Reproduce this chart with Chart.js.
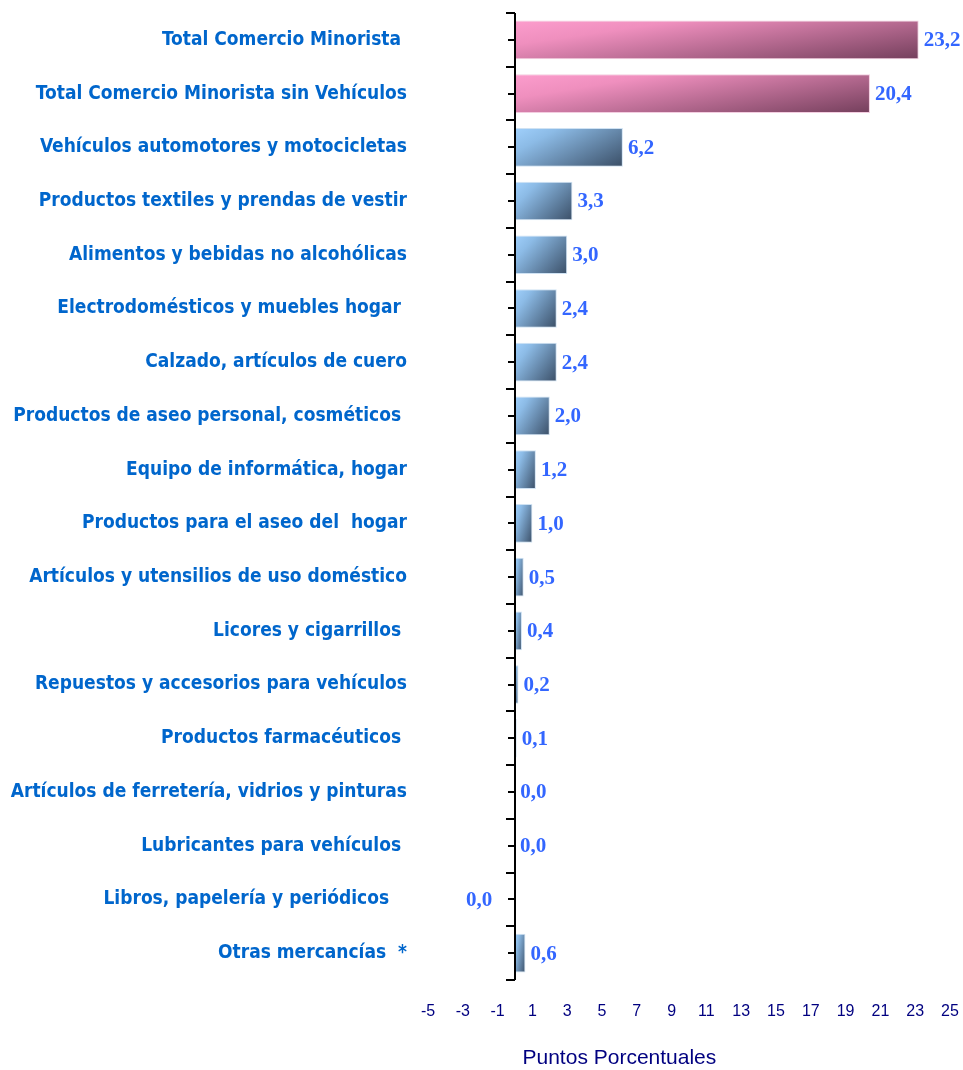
<!DOCTYPE html>
<html>
<head>
<meta charset="utf-8">
<script src="https://cdn.jsdelivr.net/npm/chart.js@4.4.0/dist/chart.umd.min.js"></script>
<style>
  body { margin: 0; background: #fff; }
  #wrap { width: 963px; height: 1070px; }
</style>
</head>
<body>
<div id="wrap"><canvas id="chart"></canvas></div>
<script>
const categories = [
  'Total Comercio Minorista ',
  'Total Comercio Minorista sin Vehículos',
  'Vehículos automotores y motocicletas',
  'Productos textiles y prendas de vestir',
  'Alimentos y bebidas no alcohólicas',
  'Electrodomésticos y muebles hogar ',
  'Calzado, artículos de cuero',
  'Productos de aseo personal, cosméticos ',
  'Equipo de informática, hogar',
  'Productos para el aseo del  hogar',
  'Artículos y utensilios de uso doméstico',
  'Licores y cigarrillos ',
  'Repuestos y accesorios para vehículos',
  'Productos farmacéuticos ',
  'Artículos de ferretería, vidrios y pinturas',
  'Lubricantes para vehículos ',
  'Libros, papelería y periódicos   ',
  'Otras mercancías  *'
];
const values = [23.2, 20.4, 6.2, 3.3, 3.0, 2.4, 2.4, 2.0, 1.2, 1.0, 0.5, 0.4, 0.2, 0.1, 0.01, 0.0, -0.04, 0.6];
const totalRows = 2; // first two bars are the totals (pink)
const tickValues = [-5, -3, -1, 1, 3, 5, 7, 9, 11, 13, 15, 17, 19, 21, 23, 25];
const axisTitle = 'Puntos Porcentuales';

// gradient light at top-left, dark at bottom-right (mix of x and y position)
function barFill(context) {
  const chart = context.chart;
  const xs = chart.scales.x, ys = chart.scales.y;
  const i = context.dataIndex;
  const pink = i < totalRows;
  if (!chart.chartArea || !xs || !ys) return pink ? '#d57aa6' : '#6f9acb';
  const x0 = Math.min(xs.getPixelForValue(0), xs.getPixelForValue(values[i]));
  const w = Math.max(Math.abs(xs.getPixelForValue(values[i]) - xs.getPixelForValue(0)), 1);
  const h = 39;
  const y0 = ys.getPixelForValue(i) - h / 2;
  const a = 0.6, b = 0.4;
  const dx = a / w, dy = b / h;
  const n = dx * dx + dy * dy;
  const g = chart.ctx.createLinearGradient(x0, y0, x0 + dx / n, y0 + dy / n);
  if (pink) {
    g.addColorStop(0, '#fc9dcd');
    g.addColorStop(0.25, '#ef8fbe');
    g.addColorStop(1, '#743f5c');
  } else {
    g.addColorStop(0, '#a0d0fc');
    g.addColorStop(0.25, '#8cbbe6');
    g.addColorStop(1, '#3a4e66');
  }
  return g;
}

function barBorder(context) {
  return context.dataIndex < totalRows ? '#f3cde0' : '#cfe2f3';
}

// value labels next to each bar
const valueLabels = {
  id: 'valueLabels',
  afterDatasetsDraw(chart) {
    const ctx = chart.ctx;
    const meta = chart.getDatasetMeta(0);
    ctx.save();
    ctx.font = 'bold 21px "Liberation Serif", "DejaVu Serif", serif';
    ctx.fillStyle = '#3366ff';
    ctx.textBaseline = 'middle';
    meta.data.forEach((bar, i) => {
      const v = values[i];
      const txt = Math.abs(v).toFixed(1).replace('.', ',');
      if (v < 0) {
        ctx.textAlign = 'right';
        ctx.fillText(txt, bar.x - 22, bar.y + 1);
      } else {
        ctx.textAlign = 'left';
        ctx.fillText(txt, bar.x + 5, bar.y + 1);
      }
    });
    ctx.restore();
  }
};

// category axis drawn at x = 0, with tick marks on the left side
const zeroAxis = {
  id: 'zeroAxis',
  afterDatasetsDraw(chart) {
    const ctx = chart.ctx;
    const xs = chart.scales.x;
    const x0 = Math.round(xs.getPixelForValue(0));
    const top = chart.chartArea.top, bottom = chart.chartArea.bottom;
    const step = (bottom - top) / categories.length;
    ctx.save();
    ctx.strokeStyle = '#000';
    ctx.lineWidth = 2;
    ctx.beginPath();
    ctx.moveTo(x0, top);
    ctx.lineTo(x0, bottom);
    for (let k = 0; k <= categories.length * 2; k++) {
      const yy = Math.round(top + k * step / 2);
      ctx.moveTo(x0 - (k % 2 ? 7 : 9), yy);
      ctx.lineTo(x0, yy);
    }
    ctx.stroke();
    ctx.font = '21px "Liberation Sans", Arial, sans-serif';
    ctx.fillStyle = '#000080';
    ctx.textAlign = 'center';
    ctx.textBaseline = 'middle';
    ctx.fillText(axisTitle, xs.getPixelForValue(6), chart.height - 12);
    ctx.restore();
  }
};

new Chart(document.getElementById('chart'), {
  type: 'bar',
  data: {
    labels: categories,
    datasets: [{
      data: values,
      backgroundColor: barFill,
      borderColor: barBorder,
      borderWidth: 1,
      barPercentage: 0.72,
      categoryPercentage: 1.0
    }]
  },
  options: {
    indexAxis: 'y',
    responsive: true,
    maintainAspectRatio: false,
    animation: false,
    layout: { padding: { top: 13, right: 13, bottom: 50, left: 0 } },
    plugins: {
      legend: { display: false },
      tooltip: { enabled: false }
    },
    scales: {
      x: {
        min: -5,
        max: 25,
        afterBuildTicks(scale) {
          scale.ticks = tickValues.map(v => ({ value: v }));
        },
        afterFit(scale) {
          scale.paddingLeft = 0;
          scale.paddingRight = 0;
          scale.height = 40;
        },
        grid: { display: false, drawTicks: false },
        border: { display: false },
        ticks: {
          padding: 22,
          maxRotation: 0,
          autoSkip: false,
          color: '#000080',
          font: { family: '"Liberation Sans Narrow", "Liberation Sans", Arial, sans-serif', size: 16 }
        }
      },
      y: {
        position: 'left',
        afterFit(scale) {
          scale.width = 428;
          scale.paddingTop = 0;
          scale.paddingBottom = 0;
        },
        grid: { display: false, drawTicks: false },
        border: { display: false },
        ticks: {
          padding: 21,
          color: '#0066cc',
          font: { family: '"Liberation Sans Narrow", "DejaVu Sans Condensed", Arial, sans-serif', size: 19, weight: 'bold' }
        }
      }
    }
  },
  plugins: [valueLabels, zeroAxis]
});
</script>
</body>
</html>
